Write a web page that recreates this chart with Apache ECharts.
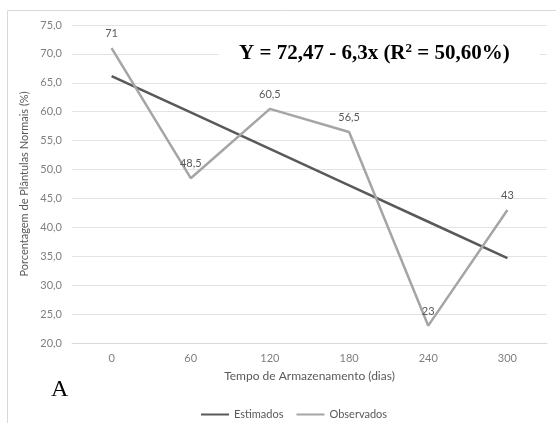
<!DOCTYPE html>
<html>
<head>
<meta charset="utf-8">
<script src="https://cdn.jsdelivr.net/npm/echarts@6/dist/echarts.min.js"></script>
<style>
  html, body { margin: 0; padding: 0; background: #ffffff; }
  #chart { width: 556px; height: 423px; }
</style>
</head>
<body>
<div id="chart"></div>
<script>
// Storage time (days)
const dias = ['0', '60', '120', '180', '240', '300'];
// Normal seedlings (%), observed
const observados = [71, 48.5, 60.5, 56.5, 23, 43];
// Normal seedlings (%), fitted regression line
const estimados = [66.17, 59.87, 53.57, 47.27, 40.97, 34.67];
// Y axis range
const yMin = 20, yMax = 75, yStep = 5;

const virgula = (v, d) => (d == null ? String(v) : v.toFixed(d)).replace('.', ',');
const FONT = 'Lato';

const chart = echarts.init(document.getElementById('chart'), null, { renderer: 'canvas' });
chart.setOption({
  animation: false,
  textStyle: { fontFamily: FONT },
  grid: { left: 72, right: 9, top: 25, bottom: 80, containLabel: false },
  legend: {
    left: 195, top: 404,
    itemWidth: 28, itemHeight: 10, itemGap: 12,
    itemStyle: { opacity: 0 },
    textStyle: { fontFamily: FONT, fontSize: 11, color: '#595959' },
    data: ['Estimados', 'Observados']
  },
  xAxis: {
    type: 'category',
    data: dias,
    boundaryGap: true,
    name: 'Tempo de Armazenamento (dias)',
    nameLocation: 'middle',
    nameGap: 27,
    nameTextStyle: { fontFamily: FONT, fontSize: 12, color: '#595959' },
    axisLine: { show: true, lineStyle: { color: '#d9d9d9', width: 1 } },
    axisTick: { show: false },
    axisLabel: { margin: 10, fontFamily: FONT, fontSize: 11, color: '#7f7f7f' }
  },
  yAxis: {
    type: 'value',
    min: yMin, max: yMax, interval: yStep,
    name: 'Porcentagem de Plântulas Normais (%)',
    nameLocation: 'middle',
    nameGap: 37,
    nameTextStyle: { fontFamily: FONT, fontSize: 11, color: '#595959' },
    axisLine: { show: false },
    axisTick: { show: false },
    axisLabel: { margin: 10, fontFamily: FONT, fontSize: 11, color: '#7f7f7f',
      formatter: v => virgula(v, 1) },
    splitLine: { lineStyle: { color: '#e3e3e3', width: 1 } }
  },
  series: [
    {
      name: 'Estimados', type: 'line', data: estimados,
      symbol: 'circle', symbolSize: 0.01, showSymbol: true, silent: true,
      lineStyle: { color: '#595959', width: 2.5 },
      itemStyle: { color: '#595959' }
    },
    {
      name: 'Observados', type: 'line', data: observados,
      symbol: 'circle', symbolSize: 0.01, showSymbol: true, silent: true,
      lineStyle: { color: '#a5a5a5', width: 2.5 },
      itemStyle: { color: '#a5a5a5' },
      label: {
        show: true, position: 'top', distance: 9,
        fontFamily: FONT, fontSize: 11, color: '#595959',
        formatter: p => virgula(p.value)
      }
    }
  ],
  graphic: [
    {
      type: 'rect', silent: true, z: -10,
      shape: { x: 7.5, y: 10.5, width: 560, height: 440 },
      style: { fill: 'none', stroke: '#d9d9d9', lineWidth: 1 }
    },
    {
      type: 'rect', silent: true, z: 50,
      shape: { x: 219, y: 41, width: 321, height: 26 },
      style: { fill: '#ffffff' }
    },
    {
      type: 'text', silent: true, z: 60,
      left: 239, top: 42,
      style: {
        text: '{m|Y = 72,47 - 6,3x (R}{s|2}{m| = 50,60%)}',
        rich: {
          m: { fontFamily: 'Liberation Serif', fontWeight: 'bold', fontSize: 21, fill: '#000000', lineHeight: 24 },
          s: { fontFamily: 'Liberation Serif', fontWeight: 'bold', fontSize: 13, fill: '#000000', lineHeight: 24, verticalAlign: 'top', padding: [0, 0, 10, 0] }
        }
      }
    },
    {
      type: 'text', silent: true, z: 60,
      left: 51, top: 378,
      style: { text: 'A', fontFamily: 'Liberation Serif', fontSize: 24, fill: '#000000' }
    }
  ]
});
</script>
</body>
</html>
